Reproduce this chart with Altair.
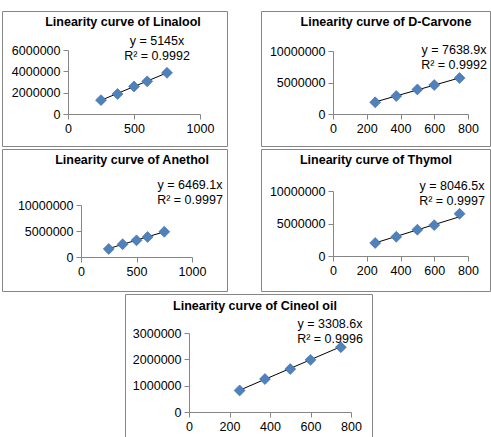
import altair as alt
import pandas as pd

# ---------------- data ----------------
conc = [250, 375, 500, 600, 750]
titles = [
    "Linearity curve of Linalool",
    "Linearity curve of D-Carvone",
    "Linearity curve of Anethol",
    "Linearity curve of Thymol",
    "Linearity curve of Cineol oil",
]
linalool = [1300000, 1880000, 2580000, 3060000, 3860000]
carvone = [1850000, 2850000, 3900000, 4600000, 5700000]
anethol = [1550000, 2450000, 3200000, 3850000, 4850000]
thymol = [2000000, 2950000, 4050000, 4750000, 6500000]
cineol = [820000, 1250000, 1630000, 1980000, 2460000]
slopes = [5145, 7638.9, 6469.1, 8046.5, 3308.6]
eq_labels = ["y = 5145x", "y = 7638.9x", "y = 6469.1x", "y = 8046.5x", "y = 3308.6x"]
r2_labels = ["R² = 0.9992", "R² = 0.9992", "R² = 0.9997", "R² = 0.9997", "R² = 0.9996"]
x_ticks = [
    [0, 500, 1000],
    [0, 200, 400, 600, 800],
    [0, 500, 1000],
    [0, 200, 400, 600, 800],
    [0, 200, 400, 600, 800],
]
y_ticks = [
    [0, 2000000, 4000000, 6000000],
    [0, 5000000, 10000000],
    [0, 5000000, 10000000],
    [0, 5000000, 10000000],
    [0, 1000000, 2000000, 3000000],
]
series = [linalool, carvone, anethol, thymol, cineol]

FONT = "Liberation Sans"
GREY = "#868686"

# ---------------- layout (style) ----------------
# w, h, x range, y range, title pos, equation pos
layout = [
    (225, 135, [66, 198], [103, 39], (121, 11), (155, 24)),
    (229, 135, [72, 207], [103, 40], (125, 11), (193, 33)),
    (225, 142, [79, 190], [108, 56], (130, 11), (188, 30)),
    (229, 142, [72, 207], [107, 42], (115, 11), (191, 31)),
    (247, 145, [64, 226], [118, 39], (130, 12), (205, 24)),
]


def panel(i):
    w, h, xr, yr, tpos, epos = layout[i]
    df = pd.DataFrame({"x": conc, "y": series[i]})
    xs = alt.Scale(domain=[x_ticks[i][0], x_ticks[i][-1]], range=xr, nice=False)
    ys = alt.Scale(domain=[y_ticks[i][0], y_ticks[i][-1]], range=yr, nice=False)
    xaxis = alt.Axis(values=x_ticks[i], offset=-(h - yr[0]), title="",
                     labelFlush=False, labelOverlap=False, format="d")
    yaxis = alt.Axis(values=y_ticks[i], offset=-xr[0], title="",
                     labelFlush=False, labelOverlap=False, format="d")

    line = (
        alt.Chart(df)
        .transform_calculate(fit=f"datum.x * {slopes[i]}")
        .mark_line(color="#000000", strokeWidth=1)
        .encode(
            x=alt.X("x:Q", scale=xs, axis=xaxis, title=""),
            y=alt.Y("fit:Q", scale=ys, axis=yaxis, title=""),
        )
    )
    pts = (
        alt.Chart(df)
        .mark_point(shape="diamond", filled=True, size=120, color="#4F81BD",
                    stroke="#3E6A9E", strokeWidth=0.6, opacity=1)
        .encode(
            x=alt.X("x:Q", scale=xs, axis=xaxis, title=""),
            y=alt.Y("y:Q", scale=ys, axis=yaxis, title=""),
        )
    )
    ttl = (
        alt.Chart(pd.DataFrame({"t": [titles[i]]}))
        .mark_text(font=FONT, fontSize=12.5, fontWeight="bold", color="#000000",
                   align="center", baseline="middle")
        .encode(x=alt.value(tpos[0]), y=alt.value(tpos[1]), text="t:N")
    )
    eq = (
        alt.Chart(pd.DataFrame({"t": [eq_labels[i] + "\n" + r2_labels[i]]}))
        .mark_text(font=FONT, fontSize=12.5, color="#000000", align="center",
                   baseline="top", lineBreak="\n", lineHeight=15)
        .encode(x=alt.value(epos[0]), y=alt.value(epos[1]), text="t:N")
    )
    return alt.layer(line, pts, ttl, eq).properties(width=w, height=h)


spacer = (
    alt.Chart(pd.DataFrame({"a": [0]}))
    .mark_point(opacity=0, size=1)
    .encode(x=alt.value(50), y=alt.value(50))
    .properties(width=100, height=145, view=alt.ViewBackground(strokeOpacity=0))
)

row1 = alt.hconcat(panel(0), panel(1), spacing=32)
row2 = alt.hconcat(panel(2), panel(3), spacing=32)
row3 = alt.hconcat(spacer, panel(4), spacing=22)

chart = (
    alt.vconcat(row1, row2, row3, spacing=1)
    .properties(padding={"left": 1, "top": 10, "right": 0, "bottom": 0},
                background="#ffffff")
    .configure_view(stroke=GREY, strokeWidth=1)
    .configure_axis(
        grid=False,
        domainColor=GREY,
        tickColor=GREY,
        tickSize=5,
        labelPadding=3,
        labelFont=FONT,
        labelFontSize=12.5,
        labelColor="#000000",
    )
)

chart.save("out.html", embed_options={"renderer": "svg", "actions": False})
